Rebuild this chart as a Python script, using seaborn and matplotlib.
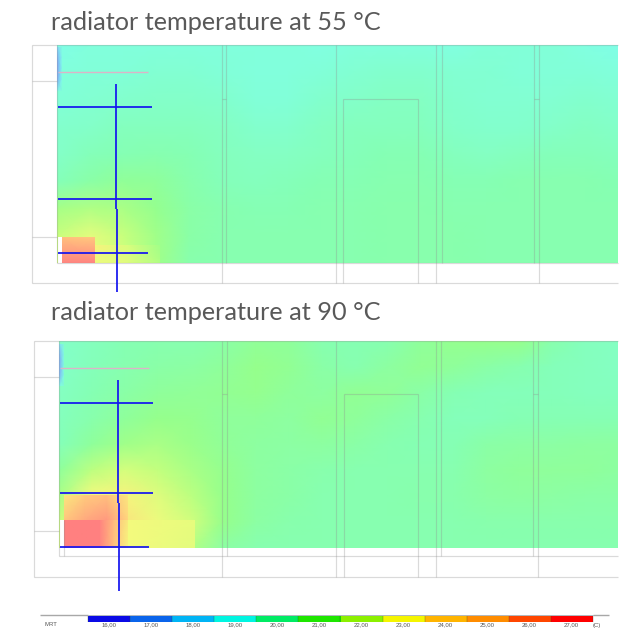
import matplotlib
matplotlib.use("Agg")
import matplotlib.pyplot as plt
import numpy as np
import seaborn as sns
from matplotlib.colors import LinearSegmentedColormap, ListedColormap

# ---------- data (temperature in deg C) ----------
titles = ["radiator temperature at 55 °C", "radiator temperature at 90 °C"]

field_55 = [
    [19.0,19.2,19.2,19.2,19.2,19.2,19.2,19.2,19.1,19.2,19.2,19.2,19.1,19.3,19.3,19.3,19.1,19.0],
    [19.2,19.3,19.3,19.4,19.4,19.3,19.2,19.2,19.3,19.4,19.5,19.5,19.4,19.4,19.3,19.3,19.3,19.2],
    [19.3,19.4,19.5,19.6,19.6,19.5,19.3,19.3,19.5,19.6,19.7,19.7,19.5,19.4,19.4,19.4,19.5,19.4],
    [19.5,19.6,19.8,19.8,19.8,19.7,19.5,19.5,19.7,19.8,19.8,19.8,19.6,19.5,19.5,19.6,19.7,19.6],
    [19.6,19.9,20.0,20.1,20.0,19.8,19.7,19.7,19.8,19.9,20.0,20.0,19.8,19.7,19.8,19.9,19.9,19.8],
    [19.9,20.3,20.7,20.6,20.2,19.9,19.8,19.9,20.0,20.0,20.1,20.1,20.0,20.0,20.1,20.1,20.1,20.0],
    [21.3,21.5,21.4,20.9,20.3,20.1,20.0,20.0,20.1,20.1,20.2,20.2,20.1,20.1,20.1,20.1,20.1,20.1],
    [22.0,22.6,22.0,21.2,20.3,20.1,20.1,20.1,20.1,20.1,20.2,20.2,20.2,20.1,20.1,20.1,20.1,20.1],
    [22.2,23.0,22.2,21.2,20.2,20.1,20.1,20.1,20.1,20.1,20.2,20.2,20.2,20.1,20.1,20.1,20.1,20.1],
]
field_90 = [
    [19.6,19.8,20.0,20.1,20.1,20.3,20.7,20.6,20.1,20.0,20.1,20.6,20.9,21.0,21.0,20.2,19.8,19.7],
    [19.6,19.9,20.1,20.3,20.4,20.6,21.0,20.8,20.3,20.1,20.5,20.8,20.6,20.3,20.1,19.9,19.8,19.7],
    [19.7,20.0,20.3,20.6,20.7,20.8,20.9,20.6,20.5,20.8,20.7,20.3,20.0,19.9,19.9,19.9,19.8,19.8],
    [19.8,20.2,20.6,21.0,20.9,20.6,20.6,20.5,20.8,20.6,20.3,20.1,19.9,19.9,20.0,20.0,20.0,20.0],
    [19.9,20.6,21.2,21.4,21.1,20.7,20.5,20.4,20.5,20.3,20.1,20.0,20.0,20.3,20.4,20.4,20.5,20.5],
    [20.6,21.8,22.3,21.9,21.4,20.9,20.5,20.3,20.2,20.1,20.1,20.1,20.1,20.5,20.6,20.6,20.6,20.5],
    [21.4,23.0,23.2,22.5,21.8,21.0,20.5,20.3,20.1,20.1,20.1,20.2,20.2,20.4,20.5,20.4,20.3,20.3],
    [22.0,24.4,23.6,22.8,22.2,21.0,20.4,20.2,20.1,20.1,20.1,20.1,20.1,20.2,20.2,20.2,20.2,20.2],
    [22.3,26.0,24.0,22.8,21.6,20.4,20.1,20.1,20.1,20.1,20.1,20.1,20.1,20.1,20.1,20.1,20.1,20.1],
]
# sharp-edged coarse cells in the lower-left corner
hot_55 = [[24.6, 24.4], [25.9, 25.9]]
warm_55 = [[23.2, 22.4, 21.2], [22.8, 22.5, 21.5]]
cold_55 = [[18.0, 19.2], [17.0, 19.0], [16.8, 19.0], [17.0, 19.0], [18.8, 19.3]]
hot_90 = [[26.0, 26.0], [26.0, 26.0]]
orange_90 = [[23.5, 24.3, 24.6, 23.5], [24.5, 25.2, 25.5, 24.0]]
side_90 = [[25.9, 24.8, 23.4], [25.9, 24.6, 23.2]]
warm_90 = [[23.0, 22.7], [23.0, 22.6]]
cold_90 = [[18.2, 19.4], [17.2, 19.2], [17.0, 19.2], [17.2, 19.2], [18.9, 19.5]]

legend_values = [16, 17, 18, 19, 20, 21, 22, 23, 24, 25, 26, 27]
legend_labels = ["16,00", "17,00", "18,00", "19,00", "20,00", "21,00",
                 "22,00", "23,00", "24,00", "25,00", "26,00", "27,00"]
legend_colors = ["#0a0ae6", "#0a64eb", "#00b4f5", "#00f5e1", "#00eb64", "#1ee600",
                 "#8cf000", "#f5f500", "#ffb400", "#ff8c00", "#ff4600", "#ff0000"]
field_levels = [16, 17, 18, 19, 20, 21, 22, 23, 24, 25, 26, 27]
field_colors = ["#8080ff", "#80aaff", "#80d7ff", "#80ffe6", "#85ffb4", "#96ff8c",
                "#c8ff7d", "#f5fa7d", "#ffd77d", "#ffb47d", "#ff8080", "#ff8080"]

# ---------- style ----------
W, H = 637, 630
sns.set_theme(style="white")
plt.rcParams["font.family"] = ["Lato", "DejaVu Sans"]

fig = plt.figure(figsize=(W / 100, H / 100), dpi=100, facecolor="white")
span = field_levels[-1] - field_levels[0]
cmap = LinearSegmentedColormap.from_list(
    "field", [((v - field_levels[0]) / span, c) for v, c in zip(field_levels, field_colors)])


def px_axes(x0, y0, x1, y1):
    ax = fig.add_axes([x0 / W, 1 - y1 / H, (x1 - x0) / W, (y1 - y0) / H])
    return ax


def shade(values, x0, y0, x1, y1):
    ax = px_axes(x0, y0, x1, y1)
    arr = np.array(values, dtype=float)
    sns.heatmap(arr, ax=ax, cmap=cmap, vmin=16, vmax=27, cbar=False,
                xticklabels=False, yticklabels=False, shading="gouraud")
    ax.set_xlim(0, arr.shape[1] - 1)
    ax.set_ylim(arr.shape[0] - 1, 0)
    ax.set_axis_off()
    return ax


shade(field_55, 57, 45, 618, 263)
shade(warm_55, 95, 245, 160, 263)
shade(hot_55, 62, 237, 95, 263)
shade(cold_55, 57, 47, 62, 91)

shade(field_90, 59, 341, 618, 548)
shade(orange_90, 64, 495, 128, 520)
shade(warm_90, 128, 520, 195, 548)
shade(side_90, 100, 520, 128, 548)
shade(hot_90, 64, 520, 100, 548)
shade(cold_90, 59, 344, 64, 386)

# legend strip
lax = px_axes(88, 615.5, 593, 622)
sns.heatmap(np.array([legend_values]), ax=lax, cmap=ListedColormap(legend_colors),
            vmin=15.5, vmax=27.5, cbar=False, xticklabels=False, yticklabels=False,
            linewidths=0)
lax.set_axis_off()

# ---------- overlay in pixel coordinates ----------
top = fig.add_axes([0, 0, 1, 1], facecolor="none")
top.set_xlim(0, W)
top.set_ylim(H, 0)
top.set_axis_off()

WALL = dict(color="#8f8f8f", alpha=0.33, lw=0.85, solid_capstyle="butt")
BLUE = dict(color="#1414f0", lw=1.25, solid_capstyle="butt")
PINK = dict(color="#dcb4c8", lw=1.0, solid_capstyle="butt")


def seg(x0, y0, x1, y1, style):
    top.plot([x0, x1], [y0, y1], **style)


# white gaps beside the radiators
top.fill_between([57.5, 62], 237, 263, color="white", lw=0)
top.fill_between([59.5, 64], 520, 548, color="white", lw=0)

# upper plan
for s in [(32, 45, 618, 45), (32, 45, 32, 283), (32, 283, 618, 283), (32, 81, 57, 81), (32, 237, 57, 237),
          (57, 45, 57, 263), (57, 263, 618, 263), (221.5, 45, 221.5, 283), (225.5, 45, 225.5, 263),
          (221.5, 99, 225.5, 99), (335.5, 45, 335.5, 283), (343, 99, 343, 283), (418, 99, 418, 283),
          (343, 99, 418, 99), (436, 45, 436, 283), (441.5, 45, 441.5, 263), (533.5, 45, 533.5, 263),
          (538.5, 45, 538.5, 283), (533.5, 99, 538.5, 99)]:
    seg(*s, WALL)
seg(58, 72, 148, 72, PINK)
for s in [(58, 107, 152, 107), (58, 199, 152, 199), (58, 253, 148, 253), (116, 84, 116, 209), (117, 209, 117, 292)]:
    seg(*s, BLUE)

# lower plan
for s in [(34, 341, 618, 341), (34, 341, 34, 576.5), (34, 576.5, 618, 576.5), (34, 377, 59, 377), (34, 531, 59, 531),
          (59, 341, 59, 556), (64, 520, 64, 556), (59, 556, 618, 556), (222, 341, 222, 576.5), (226.5, 341, 226.5, 556),
          (222, 394, 226.5, 394), (336, 341, 336, 576.5), (343.5, 394, 343.5, 576.5), (418, 394, 418, 576.5),
          (343.5, 394, 418, 394), (435.5, 341, 435.5, 576.5), (440.5, 341, 440.5, 556), (533, 341, 533, 556),
          (537.5, 341, 537.5, 576.5), (533, 394, 537.5, 394)]:
    seg(*s, WALL)
seg(60, 368, 149, 368, PINK)
for s in [(60, 403, 153, 403), (60, 493, 153, 493), (60, 547, 149, 547), (118, 380, 118, 503), (118.5, 503, 118.5, 591)]:
    seg(*s, BLUE)

# legend rule, separators and labels
seg(40, 615, 88, 615, dict(color="#a8a8a8", lw=1.0, solid_capstyle="butt"))
seg(593, 615, 609, 615, dict(color="#a8a8a8", lw=1.0, solid_capstyle="butt"))
seg(88, 615.4, 593, 615.4, dict(color="#3a4a5a", lw=0.4, alpha=0.7, solid_capstyle="butt"))
for i in range(13):
    x = 88 + i * 42.08
    seg(x, 615.5, x, 622, dict(color="#2a4a2a", lw=0.3, alpha=0.7, solid_capstyle="butt"))
for i, label in enumerate(legend_labels):
    top.text(109 + i * 42.05, 625, label, fontsize=4.3, color="#555555", ha="center", va="center",
             family=["Liberation Sans"])
top.text(51, 625, "MRT", fontsize=4.3, color="#555555", ha="center", va="center", family=["Liberation Sans"])
top.text(597, 625, "(C)", fontsize=4.3, color="#555555", ha="center", va="center", family=["Liberation Sans"])

# titles
for title, y in zip(titles, [22, 313]):
    top.text(51, y, title, fontsize=18.2, color="#595959", ha="left", va="center", fontweight="normal")

fig.savefig("out.png", dpi=100, facecolor="white")
